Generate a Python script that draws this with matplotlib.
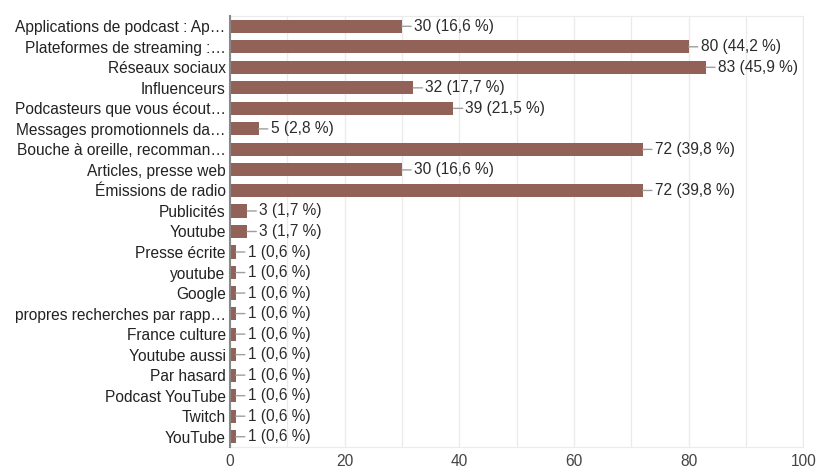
import matplotlib
matplotlib.use("Agg")
import matplotlib.pyplot as plt
import numpy as np

plt.rcParams['font.family'] = ['Liberation Sans', 'DejaVu Sans']

labels = ["Applications de podcast : Ap…", "Plateformes de streaming :…", "Réseaux sociaux",
          "Influenceurs", "Podcasteurs que vous écout…", "Messages promotionnels da…",
          "Bouche à oreille, recomman…", "Articles, presse web", "Émissions de radio",
          "Publicités", "Youtube", "Presse écrite", "youtube", "Google",
          "propres recherches par rapp…", "France culture", "Youtube aussi", "Par hasard",
          "Podcast YouTube", "Twitch", "YouTube"]
counts = [30, 80, 83, 32, 39, 5, 72, 30, 72, 3, 3, 1, 1, 1, 1, 1, 1, 1, 1, 1, 1]
pcts = ["16,6", "44,2", "45,9", "17,7", "21,5", "2,8", "39,8", "16,6", "39,8", "1,7", "1,7",
        "0,6", "0,6", "0,6", "0,6", "0,6", "0,6", "0,6", "0,6", "0,6", "0,6"]
xticks = [0, 20, 40, 60, 80, 100]

fig = plt.figure(figsize=(8.18, 4.71), dpi=100)
ax = fig.add_axes([0.281, 0.051, 0.701, 0.915])

y = np.arange(len(labels))
ax.barh(y, counts, height=0.64, color='#926259', zorder=3)

for i, (c, p) in enumerate(zip(counts, pcts)):
    ax.annotate(f"{c} ({p} %)", xy=(c, i), xytext=(12, 0), textcoords='offset pixels',
                va='center', ha='left', fontsize=11.2, color='#2b2b2b',
                arrowprops=dict(arrowstyle='-', color='#9e9e9e', lw=1,
                                shrinkA=0, shrinkB=0, relpos=(0, 0.5)))

ax.set_xlim(0, 100)
ax.set_ylim(len(labels) - 0.5, -0.5)
ax.set_yticks(y)
ax.set_yticklabels(labels, fontsize=11.2, color='#222222')
ax.set_xticks(xticks)
ax.set_xticklabels([str(t) for t in xticks], fontsize=11.2, color='#444444')
ax.set_xticks(np.arange(0, 101, 10), minor=True)
ax.grid(axis='x', which='both', color='#ebebeb', lw=1, zorder=0)
ax.tick_params(which='both', length=0, pad=3)
ax.tick_params(axis='x', pad=5)

for s in ['top', 'right', 'bottom']:
    ax.spines[s].set_color('#ebebeb')
ax.spines['left'].set_color('#888888')
ax.spines['left'].set_linewidth(1.5)
ax.spines['left'].set_zorder(4)

fig.savefig("out.png", dpi=100)
